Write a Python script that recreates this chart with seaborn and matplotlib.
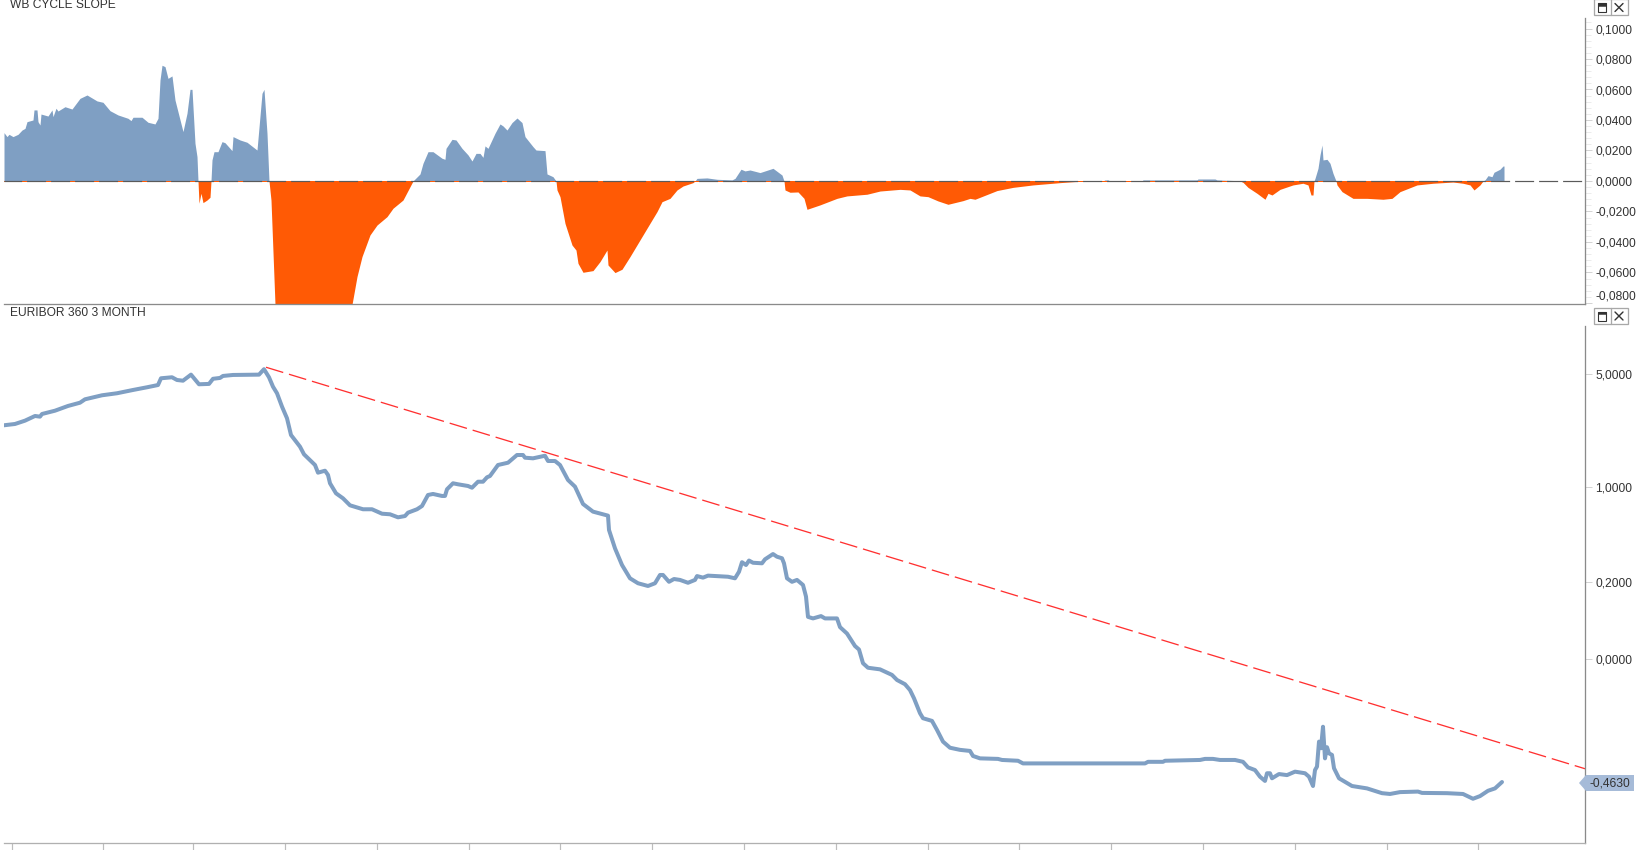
import numpy as np
import seaborn as sns
from matplotlib import pyplot as plt
from matplotlib.patches import Rectangle, Polygon
from matplotlib.ticker import MultipleLocator, NullFormatter

# upper study, one value per session
slope_x = [0,3,5,9,14,18,21,23,29,30,33,34,36,37,44,48,49,52,54,61,68,76,83,93,99,106,114,124,127,129,138,144,151,154,156,158,161,164,168,171,
           179,183,186,188,191,193,194,195,197,199,203,206,207,208,210,214,218,221,228,229,236,243,253,258,260,263,265,267,271,274,
           340,348,353,358,366,373,383,389,399,409,
           416,419,424,429,438,441,442,448,452,458,464,468,472,476,479,481,484,491,496,499,503,508,513,518,521,529,532,541,543,549,552,
           553,556,561,568,572,574,579,589,596,603,604,611,618,626,643,653,658,666,673,679,689,691,
           693,703,713,728,731,737,741,746,756,769,778,780,
           781,786,794,800,803,816,833,843,863,876,896,906,916,924,934,944,959,966,971,993,1009,1029,1056,1071,1096,
           1099,1101,1104,1106,1138,1139,1193,1194,1211,1213,1234,1236,
           1239,1244,1253,1261,1264,1268,1276,1289,1299,1304,1307,1309,1310,
           1311,1314,1316,1318,1319,1323,1326,1329,1332,
           1333,1338,1349,1363,1379,1388,1396,1413,1429,1449,1459,1466,1470,1476,1479,
           1481,1484,1488,1490,1496,1499,1500]
slope_val = [.0317,.0291,.0306,.0291,.0306,.0334,.0345,.0389,.0400,.0466,.0466,.0389,.0367,.0439,.0426,.0466,.0422,.0477,.0459,.0487,.0472,.0542,.0564,.0525,.0516,.0461,.0433,.0411,.0396,.0418,.0418,.0385,.0374,.0411,.0662,.0759,.0750,.0673,.0689,.0531,
             .0324,.0444,.0601,.0601,.0247,.0160,0,-.0146,-.0081,-.0142,-.0125,-.0107,0,.0138,.0192,.0192,.0258,.0251,.0199,.0291,.0269,.0254,.0203,.0575,.0601,.0313,0,-.0125,-.0810,-.0900,
             -.0900,-.0810,-.0627,-.0496,-.0354,-.0289,-.0234,-.0179,-.0125,0,
             .0046,.0116,.0192,.0192,.0149,.0142,.0214,.0273,.0269,.0214,.0171,.0131,.0181,.0181,.0155,.0230,.0214,.0313,.0374,.0361,.0334,.0383,.0413,.0383,.0291,.0225,.0203,.0199,.0046,.0028,0,
             -.0059,-.0103,-.0278,-.0420,-.0453,-.0540,-.0599,-.0588,-.0529,-.0453,-.0551,-.0601,-.0579,-.0496,-.0310,-.0201,-.0136,-.0114,-.0059,-.0033,-.0011,0,
             .0017,.0020,.0011,.0007,.0017,.0077,.0066,.0072,.0055,.0083,.0039,0,
             -.0059,-.0074,-.0072,-.0114,-.0186,-.0157,-.0114,-.0098,-.0087,-.0066,-.0055,-.0059,-.0098,-.0103,-.0131,-.0153,-.0129,-.0114,-.0120,-.0063,-.0042,-.0026,-.0011,-.0004,0,
             0,.0007,.0007,0,0,.0007,.0007,.0013,.0013,.0007,.0002,0,
             -.0009,-.0042,-.0081,-.0120,-.0081,-.0092,-.0055,-.0026,-.0015,-.0026,-.0092,-.0092,0,
             .0017,.0083,.0171,.0236,.0138,.0142,.0116,.0050,0,
             -.0026,-.0070,-.0114,-.0114,-.0120,-.0114,-.0070,-.0026,-.0015,-.0007,-.0015,-.0026,-.0059,-.0026,0,
             .0007,.0035,.0028,.0057,.0077,.0098,.0098]

# lower panel, EURIBOR 360 3 month
euribor_x = [0,11,21,31,36,38,51,64,76,81,98,113,129,143,154,157,168,173,179,187,195,205,209,216,219,229,255,260,265,269,273,278,283,287,296,300,311,314,321,324,326,332,339,346,359,368,378,386,394,
             401,404,413,418,424,429,438,441,443,449,454,464,468,474,479,483,486,494,504,513,519,521,529,541,544,551,556,564,571,579,589,604,605,611,618,626,634,644,651,656,659,665,670,676,684,691,693,699,704,724,731,735,738,742,745,749,758,761,769,773,778,780,783,788,793,799,802,804,809,817,821,833,
             836,843,851,855,859,864,876,888,893,901,906,910,916,919,928,933,939,946,956,966,969,976,994,998,1014,1019,1141,1144,1159,1161,
             1196,1201,1209,1216,1231,1239,1244,1251,1256,1261,1263,1266,1268,1275,1283,1291,1301,1305,1309,1311,1313,1315,1317,1319,1321,1323,1325,1328,1330,1335,1348,1363,1378,1386,1396,1414,1418,1443,1459,1469,1476,1484,1491,1498]
euribor_val = [2.449,2.494,2.613,2.79,2.764,2.869,3.004,3.209,3.358,3.52,3.722,3.828,4.006,4.158,4.29,4.708,4.774,4.598,4.554,4.95,4.334,4.356,4.675,4.73,4.862,4.928,4.95,5.335,4.774,4.191,3.828,3.179,2.702,2.135,1.808,1.621,1.389,1.242,1.278,1.201,1.062,.914,.847,.761,.716,.716,.668,.662,.631,
               .644,.679,.716,.753,.891,.905,.878,.878,.971,1.062,1.046,1.02,.994,1.087,1.087,1.16,1.183,1.389,1.436,1.605,1.605,1.544,1.53,1.588,1.472,1.472,1.389,1.115,1.01,.777,.69,.648,.515,.378,.28,.216,.195,.184,.195,.231,.231,.201,.213,.209,.197,.209,.226,.219,.228,.223,.216,.246,.295,.28,.304,.292,.289,.311,.342,.326,.317,.289,.216,.201,.209,.188,.145,.084,.08,.086,.08,.08,
               .059,.045,.021,.015,-.016,-.033,-.039,-.06,-.079,-.095,-.117,-.148,-.204,-.223,-.233,-.267,-.311,-.334,-.342,-.346,-.365,-.374,-.376,-.38,-.383,-.393,-.393,-.387,-.387,-.383,
               -.38,-.376,-.376,-.38,-.38,-.387,-.408,-.418,-.443,-.459,-.43,-.43,-.449,-.433,-.437,-.424,-.43,-.443,-.478,-.418,-.405,-.311,-.336,-.255,-.374,-.332,-.355,-.361,-.411,-.449,-.478,-.487,-.505,-.508,-.501,-.499,-.504,-.505,-.508,-.526,-.516,-.496,-.487,-.463]
trend_x = [262, 1581]
trend_val = [5.48, -0.413]

last_label = '-0,4630'
top_title = 'WB CYCLE SLOPE'
bottom_title = 'EURIBOR 360 3 MONTH'
top_ticks = [0.10, 0.08, 0.06, 0.04, 0.02, 0.0, -0.02, -0.04, -0.06, -0.08]
top_labels = ['0,1000', '0,0800', '0,0600', '0,0400', '0,0200', '0,0000', '-0,0200', '-0,0400', '-0,0600', '-0,0800']
bottom_ticks = [5, 1, 0.2, 0]
bottom_labels = ['5,0000', '1,0000', '0,2000', '0,0000']
month_ticks = [8, 99, 189, 281, 373, 465, 556, 648, 740, 832, 924, 1015, 1107, 1199, 1291, 1383, 1474]

BLUE = '#7f9fc3'
ORANGE = '#ff5a05'
W, H = 1636, 850
PX = 0.72  # one pixel in points at dpi 100

sns.set_theme(style='white')
plt.rcParams['font.family'] = ['Liberation Sans', 'DejaVu Sans']
plt.rcParams['lines.scale_dashes'] = False


def euribor_scale(v):
    v = np.asarray(v, dtype=float)
    return np.where(v >= 0, np.log10(np.maximum(v, 0) + 0.11) * 171 + 163.9, v * 265.7)


def euribor_unscale(f):
    f = np.asarray(f, dtype=float)
    return np.where(f >= 0, 10 ** ((f - 163.9) / 171) - 0.11, f / 265.7)


def px_axes(fig, left, top, right, bottom):
    return fig.add_axes([left / W, 1 - bottom / H, (right - left) / W, (bottom - top) / H])


def style_axes(ax):
    ax.set_xlim(0, 1581)
    ax.set_xlabel('')
    ax.set_ylabel('')
    ax.patch.set_visible(False)
    ax.yaxis.tick_right()
    for side in ('left', 'top'):
        ax.spines[side].set_visible(False)
    ax.spines['right'].set_color('#8a8a8a')
    ax.spines['right'].set_linewidth(1.3 * PX)
    ax.spines['right'].set_visible(True)
    ax.spines['bottom'].set_visible(True)
    ax.spines['bottom'].set_color('#8a8a8a')
    ax.spines['bottom'].set_linewidth(1.3 * PX)
    ax.tick_params(axis='y', which='major', right=True, length=7 * PX, width=1 * PX, color='#d4d4d4',
                   labelsize=12 * PX, labelcolor='#333333', pad=3.5 * PX)


def draw_button(ax, y0):
    ax.add_patch(Rectangle((1593.5, y0), 34, 16, fc='white', ec='#a8a8a8', lw=1.3 * PX))
    ax.plot([1610.5, 1610.5], [y0, y0 + 16], color='#a8a8a8', lw=1.3 * PX)
    ax.add_patch(Rectangle((1597.5, y0 + 4), 8.5, 9, fc='white', ec='#333333', lw=1.1 * PX))
    ax.add_patch(Rectangle((1597.5, y0 + 4), 8.5, 2.5, fc='#333333', ec='#333333', lw=0.5 * PX))
    ax.plot([1615, 1623], [y0 + 4.5, y0 + 12.5], color='#333333', lw=1.4 * PX)
    ax.plot([1615, 1623], [y0 + 12.5, y0 + 4.5], color='#333333', lw=1.4 * PX)


fig = plt.figure(figsize=(W / 100, H / 100), dpi=100, facecolor='white')

# upper study
ax1 = px_axes(fig, 4, 18, 1585, 304)
slope_x_arr = np.array(slope_x)
slope_arr = np.array(slope_val)
ax1.fill_between(slope_x_arr, 0, np.maximum(slope_arr, 0), color=BLUE, lw=0)
ax1.fill_between(slope_x_arr, 0, np.minimum(slope_arr, 0), color=ORANGE, lw=0)
sns.lineplot(x=[0, slope_x[-1]], y=[0, 0], ax=ax1, color=ORANGE, linewidth=1 * PX, estimator=None)
ax1.axhline(0, color='#5a5a5a', lw=1.2 * PX, linestyle=(1, (19 * PX, 5 * PX)), dash_capstyle='butt')
ax1.set_ylim(-0.0807, 0.1069)
ax1.set_yticks(top_ticks)
ax1.set_yticklabels(top_labels)
ax1.yaxis.set_minor_locator(MultipleLocator(0.004))
ax1.yaxis.set_minor_formatter(NullFormatter())
style_axes(ax1)
ax1.tick_params(axis='y', which='minor', right=True, length=6 * PX, width=1 * PX, color='#ececec')
ax1.set_xticks([])
ax1.get_yticklabels()[-1].set_va('bottom')

# lower panel
ax2 = px_axes(fig, 4, 326, 1585, 843)
ax2.set_yscale('function', functions=(euribor_scale, euribor_unscale))
sns.lineplot(x=trend_x, y=trend_val, ax=ax2, color='#ff3030', linewidth=1.3 * PX, estimator=None,
             linestyle=(0, (18 * PX, 6 * PX)), dash_capstyle='butt')
sns.lineplot(x=euribor_x, y=euribor_val, ax=ax2, color=BLUE, linewidth=4 * PX, estimator=None)
ax2.set_ylim(-0.6925, 9.63)
ax2.set_yticks(bottom_ticks)
ax2.set_yticklabels(bottom_labels)
ax2.minorticks_off()
ax2.set_xticks(month_ticks)
ax2.set_xticklabels([])
style_axes(ax2)
ax2.spines['bottom'].set_color('#b0b0b0')
ax2.tick_params(axis='x', bottom=True, length=7 * PX, width=1.2 * PX, color='#bdbdbd')

# overlay for the panel titles, buttons and the last value tag, in pixel positions
over = fig.add_axes([0, 0, 1, 1], zorder=10)
over.set_xlim(0, W)
over.set_ylim(H, 0)
over.axis('off')
over.text(10.5, 8, top_title, fontsize=12 * PX, color='#333333', va='baseline', ha='left')
over.text(10.5, 316.5, bottom_title, fontsize=12 * PX, color='#333333', va='baseline', ha='left')
draw_button(over, -1)
draw_button(over, 307.5)
over.add_patch(Polygon([(1579, 783), (1586, 775), (1634, 775), (1634, 791), (1586, 791)], closed=True,
                       fc='#a6bbd8', ec='none'))
over.text(1610, 783, last_label, fontsize=12 * PX, color='#333333', va='center', ha='center')

fig.savefig('out.png', dpi=100)
